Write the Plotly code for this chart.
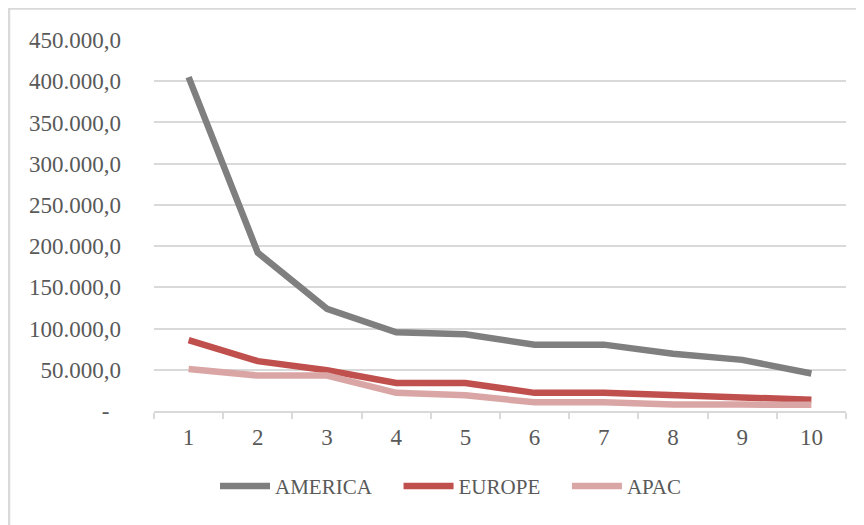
import plotly.graph_objects as go

categories = ["1", "2", "3", "4", "5", "6", "7", "8", "9", "10"]
america = [405000, 192000, 124000, 95500, 93000, 80500, 80500, 69500, 62000, 45500]
europe = [86000, 60500, 49500, 34000, 34000, 22000, 22000, 20000, 16500, 13500]
apac = [51000, 43000, 43000, 22000, 19000, 10500, 10500, 8000, 7800, 7500]

y_tickvals = [0, 50000, 100000, 150000, 200000, 250000, 300000, 350000, 400000, 450000]
y_ticktext = ["-\u00a0\u00a0", "50.000,0", "100.000,0", "150.000,0", "200.000,0",
              "250.000,0", "300.000,0", "350.000,0", "400.000,0", "450.000,0"]

series = [("AMERICA", america, "#7f7f7f"),
          ("EUROPE", europe, "#c0504d"),
          ("APAC", apac, "#daa6a5")]

FONT = "Liberation Serif"
PAD = "\u00a0\u00a0\u00a0\u2009\u200a"

fig = go.Figure()
for name, vals, color in series:
    fig.add_trace(go.Scatter(x=categories, y=vals, name=name + PAD, mode="lines",
                             line=dict(color=color, width=6.5)))

W, H = 856, 517
L, R, T, B = 146, 18, 32, 113.5
pw, ph = W - L - R, H - T - B

fig.update_layout(
    width=W, height=H,
    margin=dict(l=L, r=R, t=T, b=B, pad=0),
    paper_bgcolor="white", plot_bgcolor="white",
    font=dict(family=FONT, size=22, color="#595959"),
    showlegend=True,
    legend=dict(orientation="h", x=(215 - 154) / pw, y=(411.5 - 487) / ph,
                xanchor="left", yanchor="middle",
                font=dict(family=FONT, size=21, color="#595959"),
                itemwidth=50, tracegroupgap=0),
    xaxis=dict(type="category", range=[-0.5, 9.5], showgrid=False, showline=True,
               linecolor="#d9d9d9", linewidth=1.5, ticks="outside", tickson="boundaries",
               ticklen=6, tickcolor="#d9d9d9", tickwidth=1.5, ticklabelstandoff=5,
               tickfont=dict(family=FONT, size=23, color="#595959")),
    yaxis=dict(range=[0, 450000], tickmode="array", tickvals=y_tickvals,
               ticktext=y_ticktext, showgrid=True, gridcolor="#d9d9d9", gridwidth=1.5,
               zeroline=False, showline=False, ticks="", ticklabelstandoff=32,
               tickfont=dict(family=FONT, size=23, color="#595959")),
    shapes=[dict(type="rect", xref="paper", yref="paper",
                 x0=(1 - L) / pw, x1=2, y0=-2, y1=(H - B - 0.5) / ph,
                 line=dict(color="#d9d9d9", width=2.5), fillcolor="rgba(0,0,0,0)")],
)

fig.write_html("out.html")
